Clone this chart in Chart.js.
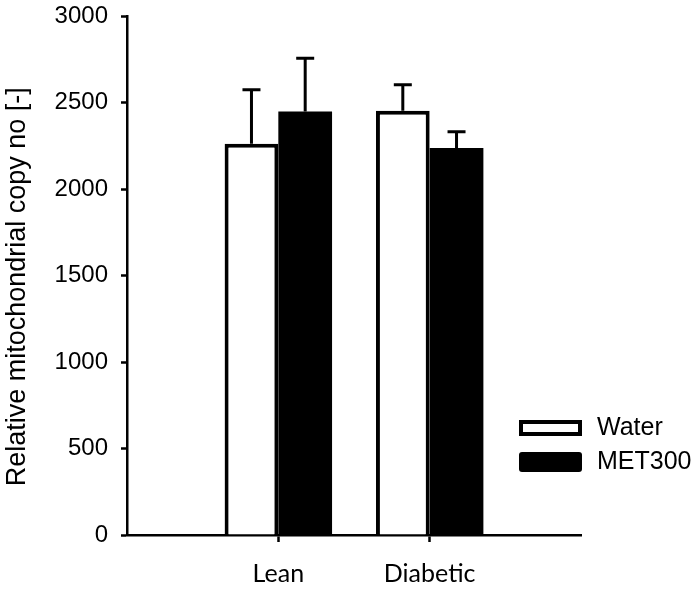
<!DOCTYPE html>
<html>
<head>
<meta charset="utf-8">
<script src="https://cdn.jsdelivr.net/npm/chart.js@4"></script>
<style>
  html, body { margin: 0; padding: 0; background: #fff; }
  #wrap { width: 700px; height: 590px; position: relative; }
</style>
</head>
<body>
<div id="wrap"><canvas id="c" width="700" height="590"></canvas></div>
<script>
const categories = ['Lean', 'Diabetic'];
const seriesNames = ['Water', 'MET300'];
const waterValues = [2262, 2452];
const met300Values = [2448, 2237];
const waterErrors = [312, 150];
const met300Errors = [308, 94];
const yTicks = [0, 500, 1000, 1500, 2000, 2500, 3000];
const yTitle = 'Relative mitochondrial copy no [-]';

const labels = ['', ...categories, ''];
const pad = arr => [null, ...arr, null];
const errs = [pad(waterErrors), pad(met300Errors)];

const errorBars = {
  id: 'errorBars',
  afterDatasetsDraw(chart) {
    const ctx = chart.ctx;
    const y = chart.scales.y;
    ctx.save();
    ctx.strokeStyle = '#000';
    ctx.lineWidth = 3;
    chart.data.datasets.forEach((ds, di) => {
      const meta = chart.getDatasetMeta(di);
      meta.data.forEach((bar, i) => {
        const v = ds.data[i];
        const e = errs[di][i];
        if (v == null || e == null) return;
        const top = y.getPixelForValue(v + e);
        const base = y.getPixelForValue(v);
        ctx.beginPath();
        ctx.moveTo(bar.x, base);
        ctx.lineTo(bar.x, top);
        ctx.moveTo(bar.x - 9, top);
        ctx.lineTo(bar.x + 9, top);
        ctx.stroke();
      });
    });
    ctx.restore();
  }
};

const customLegend = {
  id: 'customLegend',
  afterDraw(chart) {
    const ctx = chart.ctx;
    ctx.save();
    ctx.fillStyle = '#fff';
    ctx.strokeStyle = '#000';
    ctx.lineWidth = 4;
    ctx.fillRect(521, 422, 59, 12);
    ctx.strokeRect(521, 422, 59, 12);
    ctx.fillStyle = '#000';
    ctx.beginPath();
    ctx.roundRect(519, 452, 63, 20, 3);
    ctx.fill();
    ctx.fillStyle = '#000';
    ctx.font = '25px "Liberation Sans", Arial, sans-serif';
    ctx.textBaseline = 'middle';
    ctx.textAlign = 'left';
    ctx.fillText(seriesNames[0], 597, 428);
    ctx.fillText(seriesNames[1], 597, 462);
    ctx.restore();
  }
};

new Chart(document.getElementById('c'), {
  type: 'bar',
  data: {
    labels: labels,
    datasets: [
      {
        label: seriesNames[0],
        data: pad(waterValues),
        backgroundColor: '#fff',
        borderColor: '#000',
        borderWidth: 4,
        categoryPercentage: 0.71,
        barPercentage: 1.0
      },
      {
        label: seriesNames[1],
        data: pad(met300Values),
        backgroundColor: '#000',
        borderColor: '#000',
        borderWidth: 0,
        categoryPercentage: 0.71,
        barPercentage: 1.0
      }
    ]
  },
  options: {
    responsive: false,
    animation: false,
    devicePixelRatio: 1,
    layout: { padding: { top: 16, right: 119, bottom: 0, left: 0 } },
    plugins: {
      legend: { display: false },
      tooltip: { enabled: false }
    },
    scales: {
      x: {
        type: 'category',
        offset: false,
        grid: {
          display: true,
          offset: false,
          drawOnChartArea: false,
          drawTicks: true,
          tickLength: 7,
          tickWidth: 2.5,
          tickColor: c => (c.index === 0 || c.index === labels.length - 1) ? 'rgba(0,0,0,0)' : '#000'
        },
        border: { display: true, color: '#000', width: 2.5 },
        ticks: {
          color: '#000',
          font: { family: 'Lato, "Open Sans", sans-serif', size: 25 },
          padding: 17,
          maxRotation: 0,
          autoSkip: false
        },
        afterFit: s => { s.height = 55; s.paddingLeft = 0; s.paddingRight = 0; }
      },
      y: {
        min: 0,
        max: 3000,
        afterBuildTicks: s => { s.ticks = yTicks.map(v => ({ value: v })); },
        grid: {
          display: true,
          drawOnChartArea: false,
          drawTicks: true,
          tickLength: 6,
          tickWidth: 2.5,
          tickColor: '#000'
        },
        border: { display: true, color: '#000', width: 2.5 },
        ticks: {
          color: '#000',
          font: { family: '"Liberation Sans", Arial, sans-serif', size: 24 },
          padding: 13,
          callback: v => String(v)
        },
        title: {
          display: true,
          text: yTitle + '   ',
          color: '#000',
          font: { family: '"Liberation Sans", Arial, sans-serif', size: 27 },
          padding: { top: 1, bottom: 0 }
        },
        afterFit: s => { s.width = 127; s.paddingTop = 0; s.paddingBottom = 0; }
      }
    }
  },
  plugins: [errorBars, customLegend]
});
</script>
</body>
</html>
